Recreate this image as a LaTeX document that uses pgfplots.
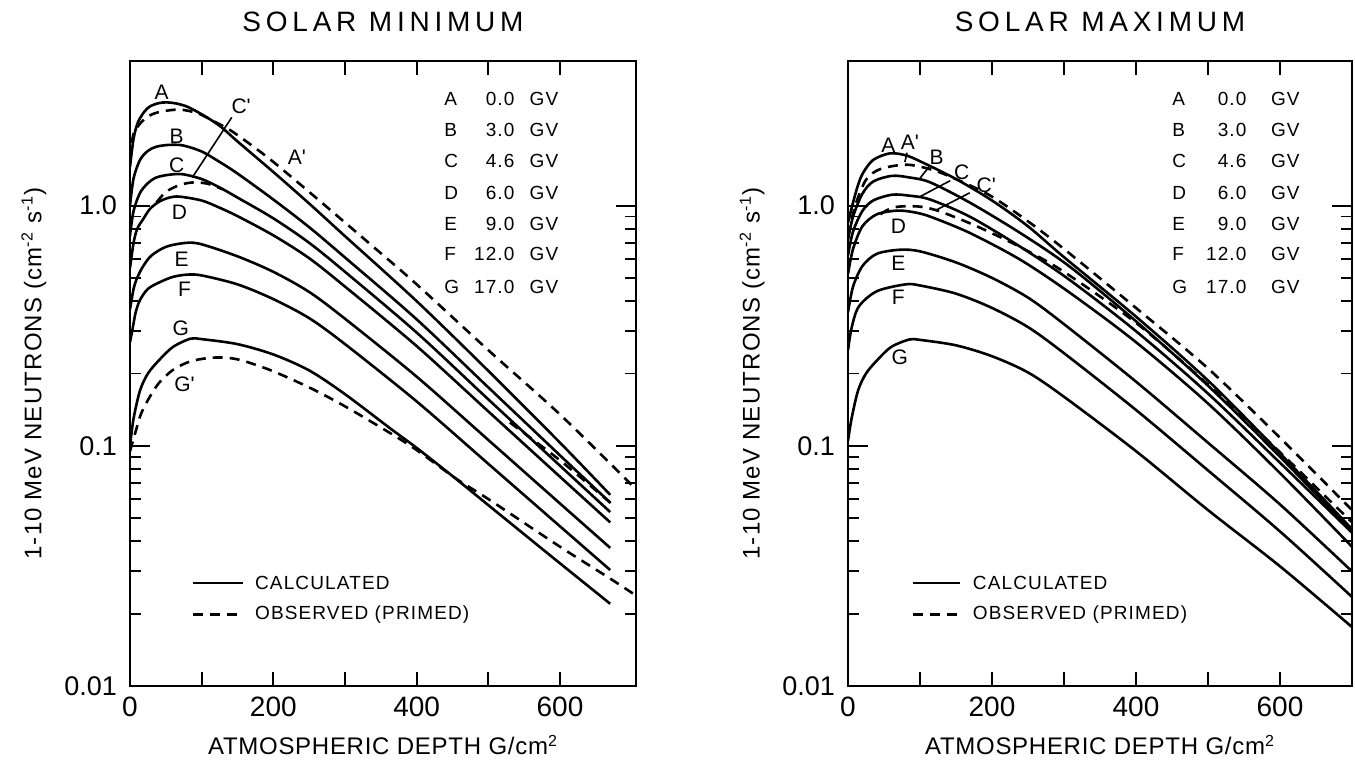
\documentclass[border=0pt]{standalone}
\usepackage{fontspec}
\setmainfont{Liberation Sans}
\newfontfamily\titlef[LetterSpace=17]{Liberation Sans}
\newfontfamily\labf[LetterSpace=3]{Liberation Sans}
\newfontfamily\ylabf[LetterSpace=5]{Liberation Sans}
\newfontfamily\legf[LetterSpace=6]{Liberation Sans}
\newfontfamily\tickf{Liberation Sans}
\usepackage{pgfplots}
\pgfplotsset{compat=1.18}

\tikzset{
  nCalc/.style={black, line width=1.3pt, smooth, tension=0.5},
  nObs/.style={black, line width=1.3pt, smooth, tension=0.5, dash pattern=on 5pt off 3.5pt},
  nLead/.style={black, line width=0.8pt},
  nCl/.style={font=\legf\fontsize{10.5}{12}\selectfont, inner sep=0pt},
  nLg/.style={font=\legf\fontsize{9.5}{11}\selectfont, inner sep=0pt},
}
\pgfplotsset{
  nAxis/.style={
    scale only axis, height=312.5pt,
    xmin=0, ymin=0.01, ymax=4,
    xtick={0,100,...,600}, xticklabels={0,,200,,400,,600},
    ytick={0.01,0.1,1}, yticklabels={0.01,0.1,1.0},
    axis line style={line width=1.4pt},
    major tick length=10pt, minor tick length=5.5pt,
    tick style={black, line width=0.9pt},
    xtick style={/pgfplots/major tick length=7pt},
    tick align=inside,
    xticklabel style={font=\tickf\fontsize{14}{15}\selectfont, anchor=base, yshift=-15.5pt},
    yticklabel style={font=\tickf\fontsize{13.5}{15}\selectfont, anchor=east, xshift=-3pt},
    xlabel={ATMOSPHERIC DEPTH G/cm\textsuperscript{2}},
    xlabel style={font=\labf\fontsize{12}{14}\selectfont, at={(axis description cs:0.5,0)}, anchor=base, yshift=-34.5pt},
    ylabel={1-10 MeV NEUTRONS (cm\textsuperscript{-2} s\textsuperscript{-1})},
    ylabel style={font=\ylabf\fontsize{12}{14}\selectfont, at={(axis description cs:-0.19,0.5)}, anchor=center},
    title style={font=\titlef\fontsize{14}{16}\selectfont, at={(axis description cs:0.5,1)}, anchor=base, yshift=8.5pt},
  },
}

\begin{document}
\begin{tikzpicture}
\useasboundingbox (0,0) rectangle (677.5pt,382pt);
% ================= SOLAR MINIMUM =================
\begin{semilogyaxis}[nAxis, xmax=706, at={(65pt,39pt)}, anchor=south west, width=253pt, title={SOLAR MINIMUM}]
% A
\addplot[nCalc] coordinates {(0,1.45) (5,1.9) (11,2.22) (20,2.46) (28,2.59) (40,2.67) (51,2.69) (65,2.66) (80,2.58) (100,2.40) (125,2.15) (150,1.85) (200,1.38) (250,1.02) (300,0.746) (400,0.40) (500,0.205) (600,0.103) (670,0.0625)};
% A'
\addplot[nObs] coordinates {(0,1.55) (4,1.94) (10,2.12) (23,2.33) (40,2.45) (69,2.51) (95,2.42) (120,2.22) (140,2.06) (170,1.78) (200,1.52) (250,1.14) (300,0.85) (343,0.66) (400,0.47) (500,0.25) (600,0.135) (706,0.066)};
% B
\addplot[nCalc] coordinates {(0,1.0) (5,1.3) (14,1.55) (25,1.69) (37,1.76) (55,1.79) (74,1.78) (100,1.68) (125,1.52) (150,1.36) (200,1.06) (250,0.813) (300,0.608) (400,0.336) (500,0.175) (600,0.0912) (670,0.058)};
% C
\addplot[nCalc] coordinates {(0,0.75) (5,0.95) (14,1.13) (25,1.24) (37,1.31) (55,1.345) (74,1.35) (100,1.29) (125,1.19) (150,1.08) (200,0.885) (250,0.70) (300,0.53) (400,0.296) (500,0.156) (600,0.0826) (670,0.053)};
% C'
\addplot[nObs] coordinates {(37,1.03) (50,1.14) (70,1.22) (90,1.25) (110,1.23) (129,1.17)};
\addplot[nObs] coordinates {(530,0.125) (600,0.087) (673,0.057)};
% D
\addplot[nCalc] coordinates {(0,0.55) (5,0.70) (10,0.80) (18,0.875) (28,0.97) (41,1.04) (55,1.08) (69,1.09) (100,1.05) (125,0.98) (150,0.904) (200,0.752) (250,0.604) (300,0.46) (400,0.26) (500,0.139) (600,0.0743) (670,0.048)};
% E
\addplot[nCalc] coordinates {(0,0.37) (5,0.45) (10,0.50) (18,0.557) (30,0.62) (51,0.675) (79,0.70) (100,0.69) (150,0.615) (200,0.53) (250,0.437) (300,0.338) (400,0.194) (500,0.1057) (600,0.0575) (670,0.0376)};
% F
\addplot[nCalc] coordinates {(0,0.27) (3,0.30) (8,0.36) (14,0.405) (25,0.45) (41,0.479) (60,0.505) (80,0.516) (100,0.512) (150,0.47) (200,0.408) (250,0.34) (300,0.265) (400,0.153) (500,0.0841) (600,0.0462) (670,0.0304)};
% G
\addplot[nCalc] coordinates {(0,0.10) (5,0.13) (14,0.17) (25,0.20) (41,0.228) (60,0.258) (84,0.279) (100,0.278) (150,0.265) (200,0.24) (250,0.206) (300,0.164) (365,0.117) (400,0.098) (452,0.074) (500,0.0566) (600,0.0324) (670,0.022)};
% G'
\addplot[nObs] coordinates {(0,0.095) (8,0.115) (15,0.135) (25,0.155) (40,0.182) (60,0.207) (85,0.225) (118,0.233) (150,0.229) (195,0.207) (250,0.175) (300,0.146) (365,0.112) (400,0.096) (455,0.073) (500,0.060) (600,0.038) (670,0.028) (706,0.0238)};
% leader C'
\addplot[nLead] coordinates {(142,2.33) (87,1.31)};
% legend samples
\addplot[black, line width=1.3pt] coordinates {(88,0.0268) (157,0.0268)};
\addplot[black, line width=1.3pt, dash pattern=on 5pt off 3.5pt] coordinates {(88,0.0198) (157,0.0198)};
\node[nLg, anchor=west] at (axis cs:174,0.0268) {CALCULATED};
\node[nLg, anchor=west] at (axis cs:174,0.0198) {OBSERVED (PRIMED)};
% curve labels
\node[nCl] at (axis cs:44,2.96) {A};
\node[nCl] at (axis cs:65,1.95) {B};
\node[nCl] at (axis cs:65,1.47) {C};
\node[nCl] at (axis cs:69,0.935) {D};
\node[nCl] at (axis cs:72,0.596) {E};
\node[nCl] at (axis cs:76,0.447) {F};
\node[nCl] at (axis cs:71,0.31) {G};
\node[nCl] at (axis cs:76,0.18) {G\textquotesingle};
\node[nCl] at (axis cs:155,2.59) {C\textquotesingle};
\node[nCl] at (axis cs:233,1.585) {A\textquotesingle};
% table
\node[nLg, anchor=west] at (axis cs:438,2.77) {A};
\node[nLg, anchor=east] at (axis cs:537,2.77) {0.0};
\node[nLg, anchor=west] at (axis cs:557,2.77) {GV};
\node[nLg, anchor=west] at (axis cs:438,2.07) {B};
\node[nLg, anchor=east] at (axis cs:537,2.07) {3.0};
\node[nLg, anchor=west] at (axis cs:557,2.07) {GV};
\node[nLg, anchor=west] at (axis cs:438,1.53) {C};
\node[nLg, anchor=east] at (axis cs:537,1.53) {4.6};
\node[nLg, anchor=west] at (axis cs:557,1.53) {GV};
\node[nLg, anchor=west] at (axis cs:438,1.13) {D};
\node[nLg, anchor=east] at (axis cs:537,1.13) {6.0};
\node[nLg, anchor=west] at (axis cs:557,1.13) {GV};
\node[nLg, anchor=west] at (axis cs:438,0.841) {E};
\node[nLg, anchor=east] at (axis cs:537,0.841) {9.0};
\node[nLg, anchor=west] at (axis cs:557,0.841) {GV};
\node[nLg, anchor=west] at (axis cs:438,0.631) {F};
\node[nLg, anchor=east] at (axis cs:537,0.631) {12.0};
\node[nLg, anchor=west] at (axis cs:557,0.631) {GV};
\node[nLg, anchor=west] at (axis cs:438,0.46) {G};
\node[nLg, anchor=east] at (axis cs:537,0.46) {17.0};
\node[nLg, anchor=west] at (axis cs:557,0.46) {GV};
\end{semilogyaxis}
% ================= SOLAR MAXIMUM =================
\begin{semilogyaxis}[nAxis, xmax=700, at={(424pt,39pt)}, anchor=south west, width=252pt, title={SOLAR MAXIMUM}]
% A
\addplot[nCalc] coordinates {(0,0.85) (7,1.03) (14,1.22) (21,1.37) (35,1.55) (58,1.65) (80,1.62) (100,1.53) (150,1.29) (200,1.05) (250,0.82) (300,0.61) (400,0.345) (500,0.187) (600,0.093) (700,0.045)};
% A'
\addplot[nObs] coordinates {(0,0.75) (10,1.0) (25,1.28) (45,1.42) (82,1.48) (120,1.40) (160,1.25) (200,1.09) (250,0.86) (300,0.66) (400,0.375) (500,0.21) (600,0.108) (700,0.054)};
% B
\addplot[nCalc] coordinates {(0,0.72) (7,0.9) (20,1.12) (35,1.26) (61,1.33) (85,1.31) (114,1.25) (169,1.03) (239,0.77) (308,0.557) (400,0.33) (500,0.178) (600,0.09) (700,0.044)};
% C
\addplot[nCalc] coordinates {(0,0.62) (7,0.78) (20,0.95) (35,1.05) (61,1.11) (85,1.10) (114,1.06) (169,0.90) (239,0.675) (308,0.49) (400,0.30) (500,0.165) (600,0.085) (700,0.0435)};
% C'
\addplot[nObs] coordinates {(45,0.92) (55,0.96) (70,0.99) (100,0.99) (128,0.945) (179,0.82) (240,0.67) (300,0.53) (400,0.325) (500,0.18) (600,0.094) (700,0.048)};
% D
\addplot[nCalc] coordinates {(0,0.52) (7,0.66) (20,0.82) (40,0.92) (68,0.953) (90,0.94) (114,0.90) (169,0.77) (239,0.596) (308,0.434) (400,0.27) (500,0.15) (600,0.077) (700,0.038)};
% E
\addplot[nCalc] coordinates {(0,0.36) (7,0.46) (20,0.56) (40,0.63) (72,0.655) (100,0.645) (150,0.58) (200,0.50) (250,0.414) (300,0.321) (400,0.185) (500,0.103) (600,0.057) (700,0.030)};
% F
\addplot[nCalc] coordinates {(0,0.25) (5,0.31) (15,0.38) (40,0.44) (80,0.47) (100,0.465) (150,0.43) (200,0.375) (250,0.312) (300,0.243) (400,0.141) (500,0.079) (600,0.044) (700,0.0235)};
% G
\addplot[nCalc] coordinates {(0,0.105) (5,0.13) (14,0.17) (25,0.20) (41,0.228) (60,0.258) (85,0.277) (100,0.276) (150,0.262) (200,0.236) (250,0.202) (300,0.16) (400,0.095) (500,0.054) (600,0.0315) (700,0.0176)};
% leaders
\addplot[nLead] coordinates {(82,1.66) (79,1.52)};
\addplot[nLead] coordinates {(114,1.47) (100,1.30)};
\addplot[nLead] coordinates {(142,1.27) (100,1.09)};
\addplot[nLead] coordinates {(169,1.13) (123,0.96)};
% legend samples
\addplot[black, line width=1.3pt] coordinates {(90,0.0268) (156,0.0268)};
\addplot[black, line width=1.3pt, dash pattern=on 5pt off 3.5pt] coordinates {(90,0.0198) (156,0.0198)};
\node[nLg, anchor=west] at (axis cs:173,0.0268) {CALCULATED};
\node[nLg, anchor=west] at (axis cs:173,0.0198) {OBSERVED (PRIMED)};
% curve labels
\node[nCl] at (axis cs:56,1.79) {A};
\node[nCl] at (axis cs:86,1.83) {A\textquotesingle};
\node[nCl] at (axis cs:123,1.585) {B};
\node[nCl] at (axis cs:158,1.37) {C};
\node[nCl] at (axis cs:192,1.22) {C\textquotesingle};
\node[nCl] at (axis cs:70,0.818) {D};
\node[nCl] at (axis cs:70,0.573) {E};
\node[nCl] at (axis cs:70,0.414) {F};
\node[nCl] at (axis cs:72,0.233) {G};
% table
\node[nLg, anchor=west] at (axis cs:450,2.77) {A};
\node[nLg, anchor=east] at (axis cs:554,2.77) {0.0};
\node[nLg, anchor=west] at (axis cs:587,2.77) {GV};
\node[nLg, anchor=west] at (axis cs:450,2.07) {B};
\node[nLg, anchor=east] at (axis cs:554,2.07) {3.0};
\node[nLg, anchor=west] at (axis cs:587,2.07) {GV};
\node[nLg, anchor=west] at (axis cs:450,1.53) {C};
\node[nLg, anchor=east] at (axis cs:554,1.53) {4.6};
\node[nLg, anchor=west] at (axis cs:587,1.53) {GV};
\node[nLg, anchor=west] at (axis cs:450,1.13) {D};
\node[nLg, anchor=east] at (axis cs:554,1.13) {6.0};
\node[nLg, anchor=west] at (axis cs:587,1.13) {GV};
\node[nLg, anchor=west] at (axis cs:450,0.841) {E};
\node[nLg, anchor=east] at (axis cs:554,0.841) {9.0};
\node[nLg, anchor=west] at (axis cs:587,0.841) {GV};
\node[nLg, anchor=west] at (axis cs:450,0.631) {F};
\node[nLg, anchor=east] at (axis cs:554,0.631) {12.0};
\node[nLg, anchor=west] at (axis cs:587,0.631) {GV};
\node[nLg, anchor=west] at (axis cs:450,0.46) {G};
\node[nLg, anchor=east] at (axis cs:554,0.46) {17.0};
\node[nLg, anchor=west] at (axis cs:587,0.46) {GV};
\end{semilogyaxis}
\end{tikzpicture}
\end{document}
